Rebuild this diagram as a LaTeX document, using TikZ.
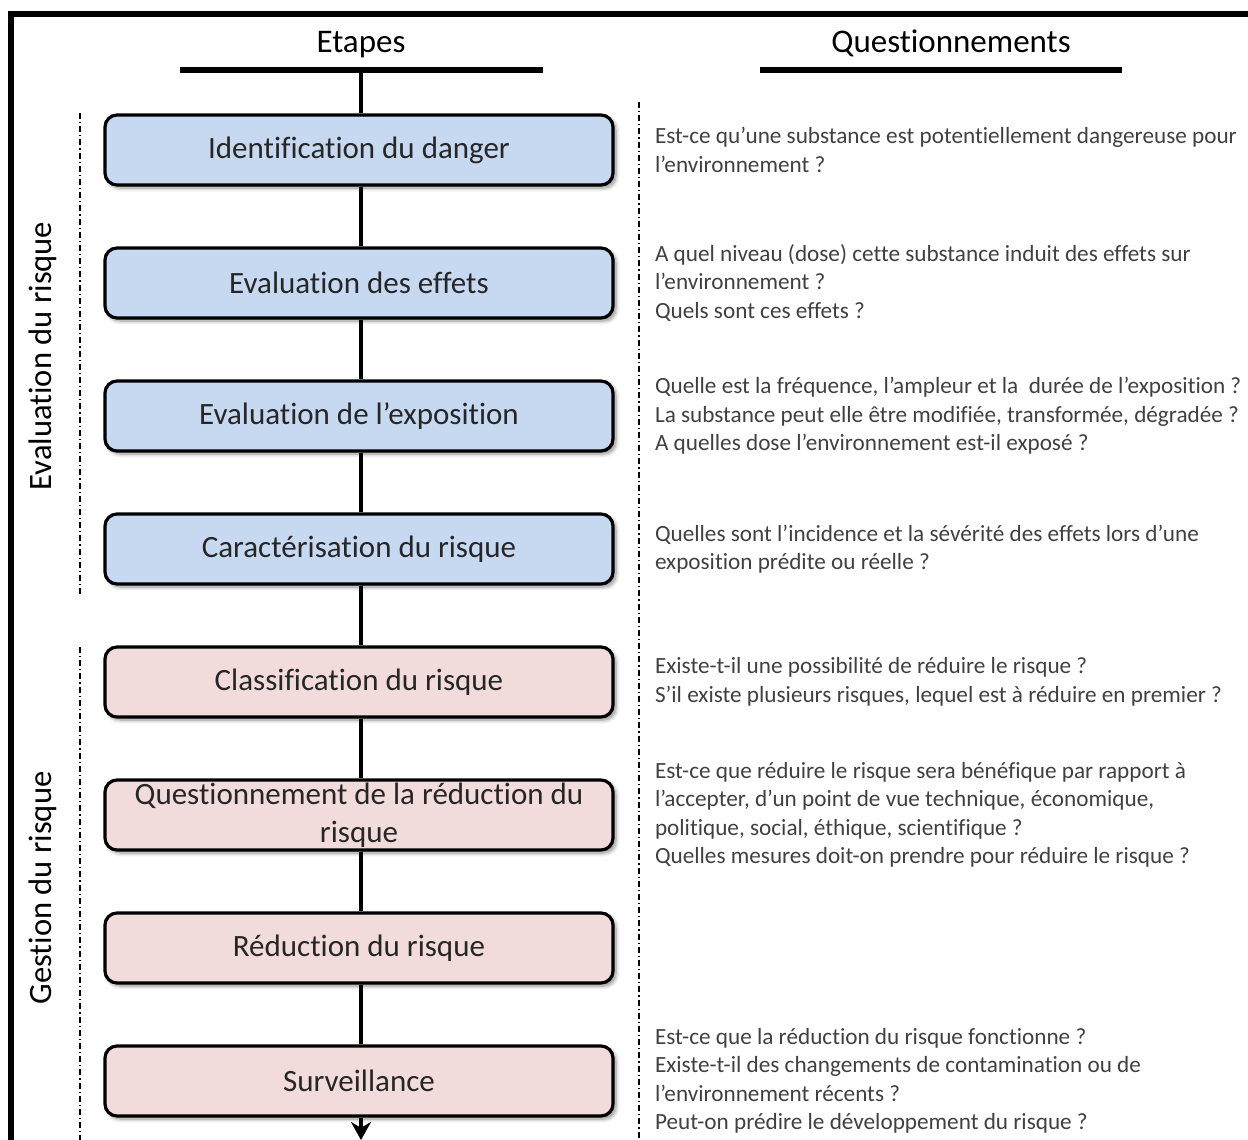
\documentclass[tikz,border=0pt]{standalone}
\usepackage{fontspec}
\setmainfont{Carlito}[Ligatures=NoCommon]
\usetikzlibrary{arrows.meta, positioning, shadows.blur}

\definecolor{evalblue}{HTML}{C6D9F1}
\definecolor{gestpink}{HTML}{F2DCDB}
\definecolor{qgray}{HTML}{404040}
\definecolor{etapetext}{HTML}{262626}

\tikzset{
	etape/.style={draw, line width=1.6pt, rounded corners=6pt, minimum width=254pt, minimum height=35pt,
		inner sep=0pt, align=center, text=etapetext, font=\fontsize{15.5}{19}\selectfont,
		blur shadow={shadow xshift=1.5pt, shadow yshift=-1.5pt, shadow blur steps=6, shadow opacity=45}},
	question/.style={align=left, inner sep=0pt, text=qgray, font=\fontsize{11.6}{14.25}\selectfont},
	header/.style={inner sep=0pt, anchor=base, font=\fontsize{16.5}{20}\selectfont},
	grouplabel/.style={rotate=90, inner sep=0pt, font=\fontsize{16.3}{20}\selectfont},
	groupline/.style={line width=0.75pt, dash pattern=on 3pt off 1.5pt on 0.6pt off 1.5pt},
	connector/.style={line width=1.8pt},
}

\begin{document}
\begin{tikzpicture}[x=0.5pt, y=-0.5pt, >=Stealth]
	\useasboundingbox (0,0) rectangle (1248,1140);

	% Cadre
	\draw[line width=3pt, line join=miter] (1248,14) -- (11,14) -- (11,1140);

	% En-tetes
	\node[header] (etapes) at (361,53) {Etapes};
	\node[header] (questions) at (951,53) {Questionnements};
	\draw[line width=2.6pt] (180,70) -- (543,70);
	\draw[line width=2.6pt] (760,70) -- (1122,70);
	\coordinate (top) at (361,70);
	\coordinate (bottom) at (361,1140);

	% Etapes
	\foreach \i/\col/\txt in {1/evalblue/Identification du danger,
		2/evalblue/Evaluation des effets,
		3/evalblue/Evaluation de l’exposition,
		4/evalblue/Caractérisation du risque,
		5/gestpink/Classification du risque,
		6/gestpink/Questionnement de la réduction du\\risque,
		7/gestpink/Réduction du risque,
		8/gestpink/Surveillance} {
		\node[etape, fill=\col] (b\i) at (359, 150 + \i*133 - 133) {\txt};
	}

	% Liaisons
	\draw[connector] (top) -- (top |- b1.north);
	\foreach \i/\j in {1/2,2/3,3/4,4/5,5/6,6/7,7/8} {
		\draw[connector] (top |- b\i.south) -- (top |- b\j.north);
	}
	\draw[connector, -{Stealth[length=9pt, width=10pt]}] (top |- b8.south) -- (bottom);

	% Groupes
	\draw[groupline] (80,113) -- (80,595);
	\draw[groupline] (80,647) -- (80,1140);
	\draw[groupline] (639,102) -- (639,1140);
	\node[grouplabel] (evalrisque) at (43,356) {Evaluation du risque};
	\node[grouplabel] (gestrisque) at (43,888) {Gestion du risque};

	% Questionnements
	\node[question, right=20pt of b1] (q1) {Est-ce qu’une substance est potentiellement dangereuse pour\\l’environnement ?};
	\node[question, right=20pt of b2] (q2) {A quel niveau (dose) cette substance induit des effets sur\\l’environnement ?\\Quels sont ces effets ?};
	\node[question, right=20pt of b3] (q3) {Quelle est la fréquence, l’ampleur et la\ \ durée de l’exposition ?\\La substance peut elle être modifiée, transformée, dégradée ?\\A quelles dose l’environnement est-il exposé ?};
	\node[question, right=20pt of b4] (q4) {Quelles sont l’incidence et la sévérité des effets lors d’une\\exposition prédite ou réelle ?};
	\node[question, right=20pt of b5] (q5) {Existe-t-il une possibilité de réduire le risque ?\\S’il existe plusieurs risques, lequel est à réduire en premier ?};
	\node[question, right=20pt of b6] (q6) {Est-ce que réduire le risque sera bénéfique par rapport à\\l’accepter, d’un point de vue technique, économique,\\politique, social, éthique, scientifique ?\\Quelles mesures doit-on prendre pour réduire le risque ?};
	\node[question, right=20pt of b8] (q8) {Est-ce que la réduction du risque fonctionne ?\\Existe-t-il des changements de contamination ou de\\l’environnement récents ?\\Peut-on prédire le développement du risque ?};
\end{tikzpicture}
\end{document}
